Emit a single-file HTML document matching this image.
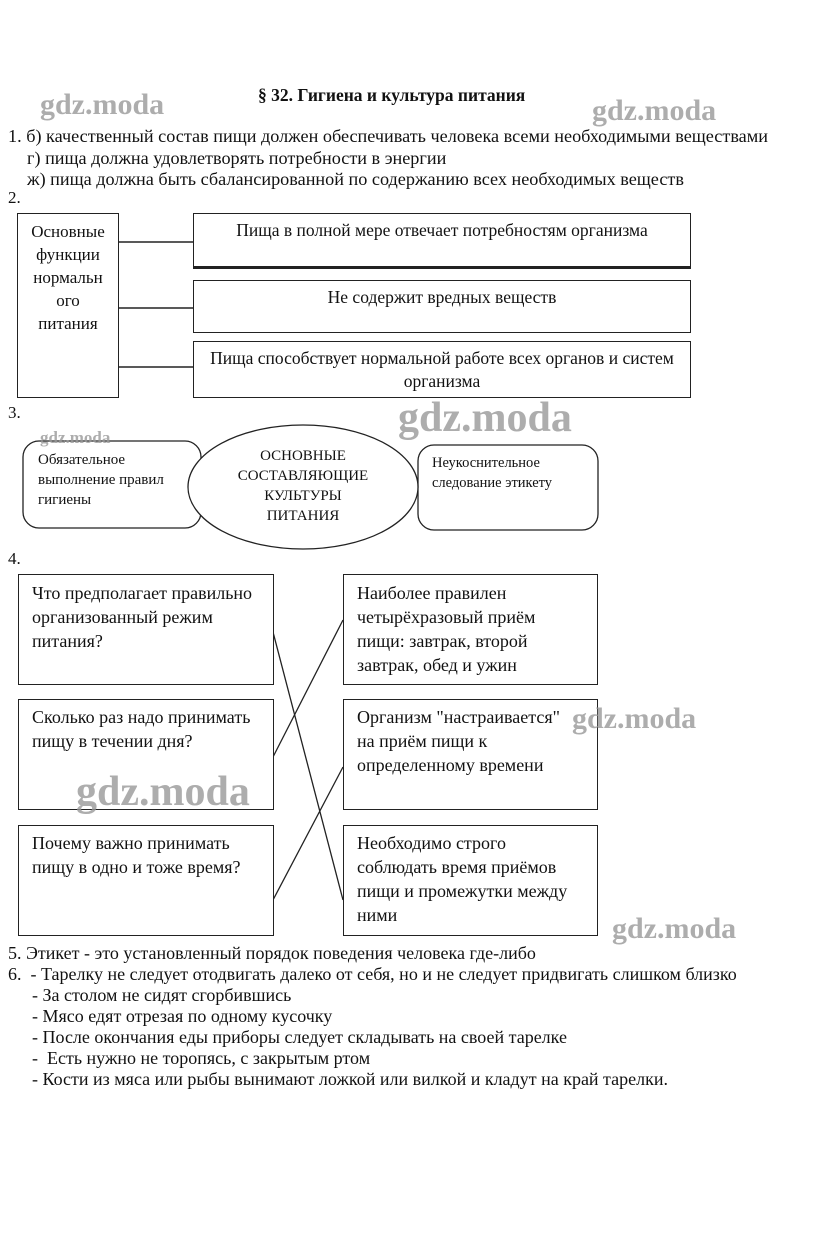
<!DOCTYPE html>
<html><head><meta charset="utf-8"><style>
body{margin:0;background:#fff;width:821px;height:1235px;position:relative;font-family:"Liberation Serif",serif;color:#111;overflow:hidden}
.t{position:absolute;white-space:nowrap;font-size:18px}
.b{position:absolute;border:1.5px solid #222;box-sizing:border-box;background:#fff}
.c{text-align:center}
.wm{position:absolute;font-family:"Liberation Serif",serif;font-weight:bold;color:#999;opacity:.8}
</style></head><body>
<div class="t" style="left:258px;top:85px;font-weight:bold;font-size:17.5px">§ 32. Гигиена и культура питания</div>
<div class="t" style="left:8px;top:126px;font-size:18.2px">1. б) качественный состав пищи должен обеспечивать человека всеми необходимыми веществами</div>
<div class="t" style="left:27px;top:148px;font-size:18.2px">г) пища должна удовлетворять потребности в энергии</div>
<div class="t" style="left:27px;top:169px;font-size:18.2px">ж) пища должна быть сбалансированной по содержанию всех необходимых веществ</div>
<div class="t" style="left:8px;top:188px;font-size:17px">2.</div>
<div class="b c" style="left:17px;top:213px;width:102px;height:185px;padding-top:6px;font-size:17px;line-height:23px">Основные<br>функции<br>нормальн<br>ого<br>питания</div>
<svg style="position:absolute;left:0;top:0" width="821" height="1235">
<line x1="119" y1="242" x2="193" y2="242" stroke="#222" stroke-width="1.5"/>
<line x1="119" y1="308" x2="193" y2="308" stroke="#222" stroke-width="1.5"/>
<line x1="119" y1="367" x2="193" y2="367" stroke="#222" stroke-width="1.5"/>
<rect x="23" y="441" width="178" height="87" rx="16" fill="none" stroke="#222" stroke-width="1.3"/>
<rect x="418" y="445" width="180" height="85" rx="16" fill="none" stroke="#222" stroke-width="1.3"/>
<ellipse cx="303" cy="487" rx="115" ry="62" fill="#fff" stroke="#222" stroke-width="1.3"/>
<line x1="273" y1="632" x2="343" y2="900" stroke="#222" stroke-width="1.3"/>
<line x1="273" y1="757" x2="343" y2="620" stroke="#222" stroke-width="1.3"/>
<line x1="273" y1="900" x2="343" y2="767" stroke="#222" stroke-width="1.3"/>
</svg>
<div class="b c" style="left:193px;top:213px;width:498px;height:56px;border-bottom-width:3px;padding-top:6px;font-size:17.5px">Пища в полной мере отвечает потребностям организма</div>
<div class="b c" style="left:193px;top:280px;width:498px;height:53px;padding-top:6px;font-size:17.5px">Не содержит вредных веществ</div>
<div class="b c" style="left:193px;top:341px;width:498px;height:57px;padding-top:5px;font-size:17.5px;line-height:23px">Пища способствует нормальной работе всех органов и систем<br>организма</div>
<div class="t" style="left:8px;top:403px;font-size:17px">3.</div>
<div class="t" style="left:38px;top:450px;font-size:15px;line-height:20px">Обязательное<br>выполнение правил<br>гигиены</div>
<div class="t c" style="left:218px;top:446px;width:170px;font-size:15px;line-height:20px">ОСНОВНЫЕ<br>СОСТАВЛЯЮЩИЕ<br>КУЛЬТУРЫ<br>ПИТАНИЯ</div>
<div class="t" style="left:432px;top:453px;font-size:14.5px;line-height:20px">Неукоснительное<br>следование этикету</div>
<div class="t" style="left:8px;top:549px;font-size:17px">4.</div>
<div class="b" style="left:18px;top:574px;width:256px;height:111px"></div>
<div class="b" style="left:18px;top:699px;width:256px;height:111px"></div>
<div class="b" style="left:18px;top:825px;width:256px;height:111px"></div>
<div class="b" style="left:343px;top:574px;width:255px;height:111px"></div>
<div class="b" style="left:343px;top:699px;width:255px;height:111px"></div>
<div class="b" style="left:343px;top:825px;width:255px;height:111px"></div>
<div class="t" style="left:32px;top:581px;font-size:18px;line-height:24px">Что предполагает правильно<br>организованный режим<br>питания?</div>
<div class="t" style="left:32px;top:705px;font-size:18px;line-height:24px">Сколько раз надо принимать<br>пищу в течении дня?</div>
<div class="t" style="left:32px;top:831px;font-size:18px;line-height:24px">Почему важно принимать<br>пищу в одно и тоже время?</div>
<div class="t" style="left:357px;top:581px;font-size:18px;line-height:24px">Наиболее правилен<br>четырёхразовый приём<br>пищи: завтрак, второй<br>завтрак, обед и ужин</div>
<div class="t" style="left:357px;top:705px;font-size:18px;line-height:24px">Организм "настраивается"<br>на приём пищи к<br>определенному времени</div>
<div class="t" style="left:357px;top:831px;font-size:18px;line-height:24px">Необходимо строго<br>соблюдать время приёмов<br>пищи и промежутки между<br>ними</div>
<div class="t" style="left:8px;top:943px;font-size:18px">5. Этикет - это установленный порядок поведения человека где-либо</div>
<div class="t" style="left:8px;top:964px;font-size:18px;line-height:21px">6.&nbsp; - Тарелку не следует отодвигать далеко от себя, но и не следует придвигать слишком близко</div>
<div class="t" style="left:32px;top:985px;font-size:18px;line-height:21px">- За столом не сидят сгорбившись<br>- Мясо едят отрезая по одному кусочку<br>- После окончания еды приборы следует складывать на своей тарелке<br>-&nbsp; Есть нужно не торопясь, с закрытым ртом<br>- Кости из мяса или рыбы вынимают ложкой или вилкой и кладут на край тарелки.</div>
<div class="wm" style="left:40px;top:88px;font-size:30px">gdz.moda</div>
<div class="wm" style="left:592px;top:94px;font-size:30px">gdz.moda</div>
<div class="wm" style="left:398px;top:394px;font-size:42px">gdz.moda</div>
<div class="wm" style="left:40px;top:428px;font-size:17px">gdz.moda</div>
<div class="wm" style="left:572px;top:702px;font-size:30px">gdz.moda</div>
<div class="wm" style="left:76px;top:768px;font-size:42px">gdz.moda</div>
<div class="wm" style="left:612px;top:912px;font-size:30px">gdz.moda</div>
</body></html>
